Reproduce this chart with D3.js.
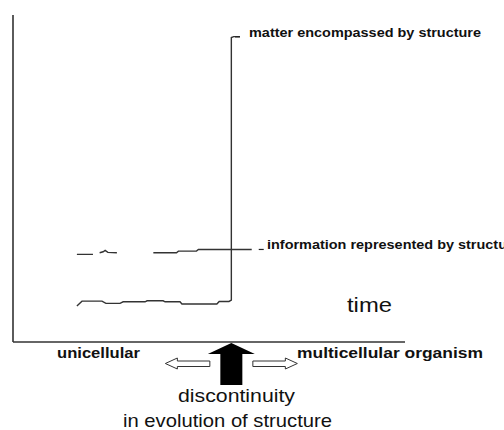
<!DOCTYPE html>
<html>
<head>
<meta charset="utf-8">
<script src="https://cdn.jsdelivr.net/npm/d3@7"></script>
<style>
  body { margin: 0; background: #fff; }
  text { font-family: "Liberation Sans", Arial, Helvetica, sans-serif; fill: #111; }
</style>
</head>
<body>
<svg id="chart"></svg>
<script>
var width = 504;
var height = 430;
var margin = {left: 13, right: 99, top: 15, bottom: 88};

// structure line: slow wobble, then the jump at the discontinuity
var matterTime = [16.3, 17.6, 22.7, 23.7, 27.3, 28.1, 33.7, 34.2, 38.3, 38.8, 42.6, 43.1, 52.0, 52.6, 55.1, 55.7, 55.7, 56.3, 57.9];
var matterValue = [11.0, 12.5, 12.5, 11.8, 11.8, 12.3, 12.3, 12.6, 12.6, 12.3, 12.3, 11.6, 11.6, 12.4, 12.4, 12.8, 93.1, 93.4, 93.4];

// information line, drawn in broken pieces (null = gap)
var infoTime = [16.3, 20.4, null, 22.1, 23.0, 23.5, 24.2, 26.5, null, 35.8, 41.7, 42.2, 46.8, 47.3, 60.9];
var infoValue = [26.8, 26.8, null, 27.3, 27.6, 28.0, 27.4, 27.3, null, 27.3, 27.3, 27.8, 27.8, 28.3, 28.3];

var seriesLabels = ["matter encompassed by structure", "information represented by structure"];
var jumpTime = 55.7;

var svg = d3.select("#chart").attr("width", width).attr("height", height);

var x = d3.scaleLinear().domain([0, 100]).range([margin.left, width - margin.right]);
var y = d3.scaleLinear().domain([0, 100]).range([height - margin.bottom, margin.top]);

// axes, plain lines with no ticks
svg.append("line")
    .attr("x1", x(0)).attr("x2", x(0))
    .attr("y1", y(0)).attr("y2", y(100))
    .attr("stroke", "#333").attr("stroke-width", 1.6);
svg.append("line")
    .attr("x1", x(0)).attr("x2", x(100))
    .attr("y1", y(0)).attr("y2", y(0))
    .attr("stroke", "#333").attr("stroke-width", 1.6);

var line = d3.line()
    .defined(function (d) { return d[0] !== null; })
    .x(function (d) { return x(d[0]); })
    .y(function (d) { return y(d[1]); });

var matter = matterTime.map(function (t, i) { return [t, matterValue[i]]; });
var info = infoTime.map(function (t, i) { return [t, infoValue[i]]; });

svg.append("path").datum(matter)
    .attr("d", line)
    .attr("fill", "none").attr("stroke", "#333").attr("stroke-width", 1.4);
svg.append("path").datum(info)
    .attr("d", line)
    .attr("fill", "none").attr("stroke", "#333").attr("stroke-width", 1.4);

// labels at the line ends, with a short leader dash
var lastM = matter[matter.length - 1];
var lastI = info[info.length - 1];
var labelPos = [
    {x: x(lastM[0]) - 5, y: y(lastM[1]) + 0.3, tx: 249},
    {x: x(lastI[0]) + 7, y: y(lastI[1]), tx: 267}
];
var labels = [];
labelPos.forEach(function (p, i) {
    svg.append("line")
        .attr("x1", p.x).attr("x2", p.x + 5)
        .attr("y1", p.y).attr("y2", p.y)
        .attr("stroke", "#222").attr("stroke-width", 1.2);
    labels.push(svg.append("text")
        .attr("x", p.tx).attr("y", p.y)
        .style("font-size", "12.5px").style("font-weight", "bold")
        .text(seriesLabels[i]));
});
// stretch both labels the same way so the first one spans its width in the picture
var stretch = 232 / labels[0].node().getComputedTextLength();
labels.forEach(function (t) {
    t.attr("textLength", t.node().getComputedTextLength() * stretch)
     .attr("lengthAdjust", "spacingAndGlyphs");
});

svg.append("text")
    .attr("x", 347).attr("y", 312)
    .attr("textLength", 45).attr("lengthAdjust", "spacingAndGlyphs")
    .style("font-size", "21px")
    .text("time");

svg.append("text")
    .attr("x", 57).attr("y", 358)
    .attr("textLength", 83).attr("lengthAdjust", "spacingAndGlyphs")
    .style("font-size", "15px").style("font-weight", "bold")
    .text("unicellular");

svg.append("text")
    .attr("x", 297).attr("y", 358)
    .attr("textLength", 186).attr("lengthAdjust", "spacingAndGlyphs")
    .style("font-size", "15.5px").style("font-weight", "bold")
    .text("multicellular organism");

// discontinuity arrows
var cx = x(jumpTime);
var base = y(0);

svg.append("path")
    .attr("d", d3.line()([
        [cx, base + 1], [cx + 23.5, base + 12], [cx + 11, base + 12], [cx + 11, base + 43],
        [cx - 11, base + 43], [cx - 11, base + 12], [cx - 23.5, base + 12]
    ]) + "Z")
    .attr("fill", "#000");

function hollowArrow(dir) {
    var s = dir;
    var pts = [
        [cx + s * 21.5, base + 19], [cx + s * 54, base + 19], [cx + s * 54, base + 16],
        [cx + s * 66, base + 21.5], [cx + s * 54, base + 27], [cx + s * 54, base + 24.5],
        [cx + s * 21.5, base + 24.5]
    ];
    svg.append("path")
        .attr("d", d3.line()(pts) + "Z")
        .attr("fill", "#fff").attr("stroke", "#333").attr("stroke-width", 1);
}
hollowArrow(-1);
hollowArrow(1);

svg.append("text")
    .attr("x", 236.5).attr("y", 402)
    .attr("text-anchor", "middle")
    .attr("textLength", 117).attr("lengthAdjust", "spacingAndGlyphs")
    .style("font-size", "18.5px")
    .text("discontinuity");

svg.append("text")
    .attr("x", 227.5).attr("y", 427)
    .attr("text-anchor", "middle")
    .attr("textLength", 209).attr("lengthAdjust", "spacingAndGlyphs")
    .style("font-size", "18.5px")
    .text("in evolution of structure");
</script>
</body>
</html>
